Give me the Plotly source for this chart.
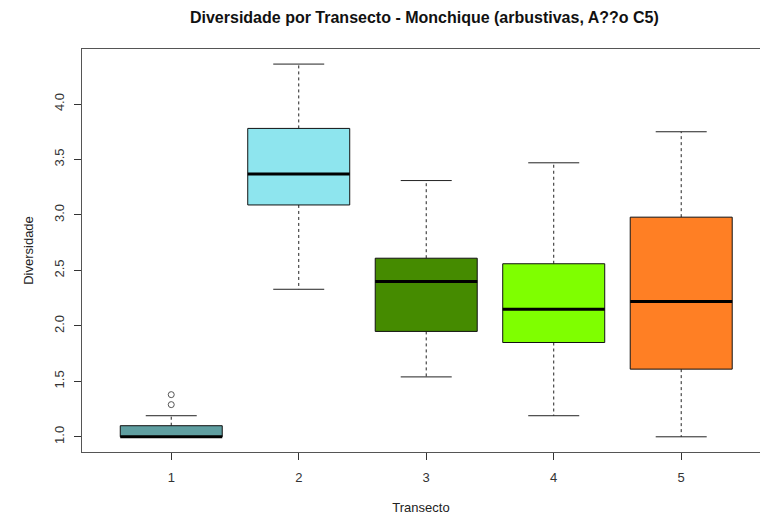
import plotly.graph_objects as go

# Summary statistics of the diversity index per transect
transectos = [1, 2, 3, 4, 5]
bigode_inf = [1.00, 2.33, 1.54, 1.19, 1.00]
q1 = [1.00, 3.09, 1.95, 1.85, 1.61]
mediana = [1.00, 3.37, 2.40, 2.15, 2.22]
q3 = [1.10, 3.78, 2.61, 2.56, 2.98]
bigode_sup = [1.19, 4.36, 3.31, 3.47, 3.75]
cores = ["#5F9EA0", "#8EE5EE", "#458B00", "#7FFF00", "#FF7F24"]

# Outlying observations (transect, value)
outlier_transecto = [1, 1]
outlier_valor = [1.29, 1.38]

meia_caixa = 0.4   # half of the box width (boxwex = 0.8)
meio_traco = 0.2   # half of the whisker cap width

fig = go.Figure()

for t, lo, a, m, b, hi, cor in zip(transectos, bigode_inf, q1, mediana, q3, bigode_sup, cores):
    # dashed whiskers
    fig.add_trace(go.Scatter(
        x=[t, t, None, t, t], y=[b, hi, None, a, lo], mode="lines",
        line=dict(color="#222", width=1, dash="3px,3px"),
        hoverinfo="skip", showlegend=False))
    # whisker caps
    fig.add_trace(go.Scatter(
        x=[t - meio_traco, t + meio_traco, None, t - meio_traco, t + meio_traco],
        y=[hi, hi, None, lo, lo], mode="lines",
        line=dict(color="#222", width=1),
        hoverinfo="skip", showlegend=False))
    # box
    fig.add_trace(go.Scatter(
        x=[t - meia_caixa, t + meia_caixa, t + meia_caixa, t - meia_caixa, t - meia_caixa],
        y=[a, a, b, b, a], mode="lines", fill="toself", fillcolor=cor,
        line=dict(color="#111", width=1),
        hoverinfo="skip", showlegend=False))
    # median
    fig.add_trace(go.Scatter(
        x=[t - meia_caixa, t + meia_caixa], y=[m, m], mode="lines",
        line=dict(color="#000", width=3),
        hoverinfo="skip", showlegend=False))

fig.add_trace(go.Scatter(
    x=outlier_transecto, y=outlier_valor, mode="markers",
    marker=dict(symbol="circle-open", size=6, color="#555", line=dict(width=1)),
    hoverinfo="skip", showlegend=False))

fonte = "Liberation Sans, Arial, sans-serif"

fig.update_layout(
    width=760, height=518,
    margin=dict(l=82, r=0, t=49, b=66),
    paper_bgcolor="white", plot_bgcolor="white",
    font=dict(family=fonte, size=13, color="#222"),
    title=dict(
        text="<b>Diversidade por Transecto - Monchique (arbustivas, A??o C5)</b>",
        x=0.505, xref="paper", xanchor="center", y=0.967, yanchor="middle",
        font=dict(family=fonte, size=16, color="#111")),
    xaxis=dict(
        range=[0.3, 5.618], tickmode="array", tickvals=transectos,
        ticktext=[str(t) for t in transectos],
        ticks="outside", ticklen=7, tickcolor="#333",
        ticklabelstandoff=6,
        showline=True, linecolor="#555", linewidth=1, mirror=True,
        showgrid=False, zeroline=False,
        title=dict(text="Transecto", standoff=19, font=dict(size=13)),
        tickfont=dict(size=13, color="#333")),
    yaxis=dict(
        range=[0.863, 4.496], tickmode="array",
        tickvals=[1.0, 1.5, 2.0, 2.5, 3.0, 3.5, 4.0],
        ticktext=["1.0", "1.5", "2.0", "2.5", "3.0", "3.5", "4.0"],
        tickangle=-90,
        ticks="outside", ticklen=7, tickcolor="#333",
        ticklabelstandoff=5,
        showline=True, linecolor="#555", linewidth=1,
        showgrid=False, zeroline=False,
        title=dict(text="Diversidade", standoff=15, font=dict(size=13)),
        tickfont=dict(size=13, color="#333")),
)

fig.write_html("out.html")
